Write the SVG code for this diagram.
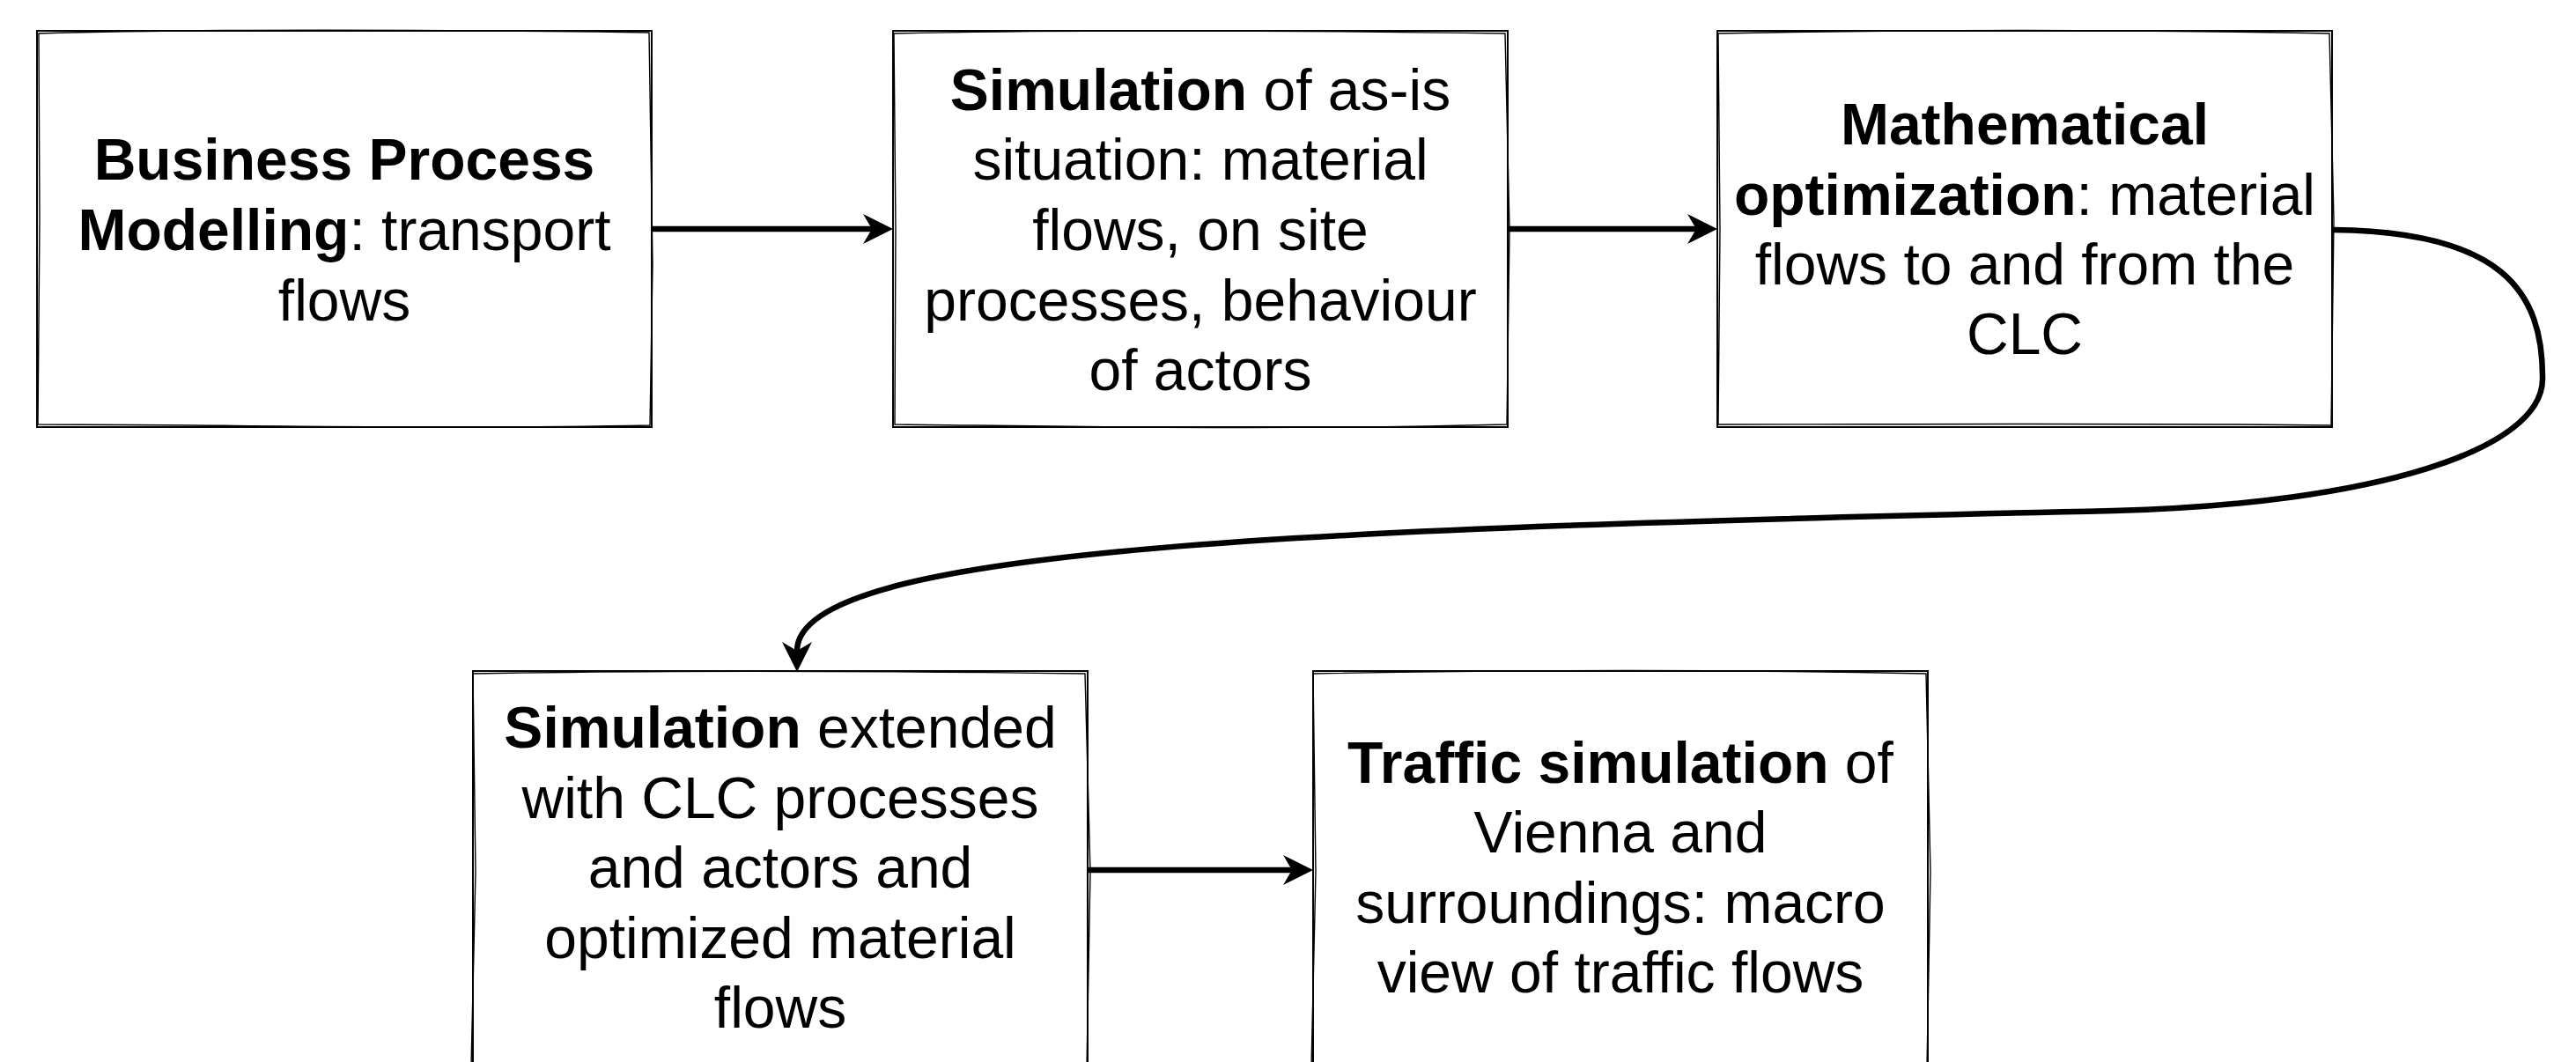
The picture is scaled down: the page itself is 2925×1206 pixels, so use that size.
<svg xmlns="http://www.w3.org/2000/svg" width="2925" height="1206" viewBox="0 0 2925 1206">
  <style>
    .box { fill: #ffffff; stroke: #000000; stroke-width: 2; }
    .sk { fill: none; stroke: #000000; stroke-width: 1.4; }
    .t { font-family: "Liberation Sans", Arial, Helvetica, sans-serif; font-size: 66px; text-anchor: middle; fill: #000000; }
    .b { font-weight: bold; }
    .edge { fill: none; stroke: #000000; stroke-width: 6.5; }
  </style>
  <defs>
    <marker id="arrow" viewBox="0 0 34 34" markerUnits="userSpaceOnUse" markerWidth="34" markerHeight="34" refX="10" refY="17" orient="auto">
      <path d="M0,0 L34,17 L0,34 L10,17 Z" fill="#000000"/>
    </marker>
  </defs>
  <rect width="2925" height="1206" fill="#ffffff"/>

  <g id="node-bpm">
    <rect class="box" x="42" y="35" width="698" height="450"/>
    <path class="sk" d="M44,38 C250,32 520,34 737,37 L741,300 L738,483 C500,488 250,482 43,482 L45,250 Z"/>
    <text class="t" x="391" y="204"><tspan class="b">Business Process</tspan></text>
    <text class="t" x="391" y="284"><tspan class="b">Modelling</tspan>: transport</text>
    <text class="t" x="391" y="364">flows</text>
  </g>

  <g id="node-sim-asis">
    <rect class="box" x="1014" y="35" width="698" height="450"/>
    <path class="sk" d="M1015,38 C1250,33 1500,35 1709,38 L1714,260 L1711,482 C1450,489 1200,484 1016,482 L1017,260 Z"/>
    <text class="t" x="1363" y="125"><tspan class="b">Simulation</tspan> of as-is</text>
    <text class="t" x="1363" y="204">situation: material</text>
    <text class="t" x="1363" y="284">flows, on site</text>
    <text class="t" x="1363" y="364">processes, behaviour</text>
    <text class="t" x="1363" y="443">of actors</text>
  </g>

  <g id="node-math-opt">
    <rect class="box" x="1950" y="35" width="698" height="450"/>
    <path class="sk" d="M1951,38 C2200,33 2450,34 2645,38 L2650,250 L2647,483 C2400,480 2150,482 1951,482 L1953,260 Z"/>
    <text class="t" x="2299" y="164"><tspan class="b">Mathematical</tspan></text>
    <text class="t" x="2299" y="244"><tspan class="b">optimization</tspan>: material</text>
    <text class="t" x="2299" y="323">flows to and from the</text>
    <text class="t" x="2299" y="402">CLC</text>
  </g>

  <g id="node-sim-ext">
    <rect class="box" x="537" y="762" width="698" height="450"/>
    <path class="sk" d="M538,765 C750,761 1000,762 1232,765 L1238,990 L1234,1212 M535,1212 L540,990 L537,765"/>
    <text class="t" x="886" y="849"><tspan class="b">Simulation</tspan> extended</text>
    <text class="t" x="886" y="929">with CLC processes</text>
    <text class="t" x="886" y="1008">and actors and</text>
    <text class="t" x="886" y="1088">optimized material</text>
    <text class="t" x="886" y="1167">flows</text>
  </g>

  <g id="node-traffic">
    <rect class="box" x="1491" y="762" width="698" height="450"/>
    <path class="sk" d="M1492,765 C1750,760 2000,761 2187,765 L2192,990 L2188,1212 M1489,1212 L1494,990 L1491,765"/>
    <text class="t" x="1840" y="889"><tspan class="b">Traffic simulation</tspan> of</text>
    <text class="t" x="1840" y="968">Vienna and</text>
    <text class="t" x="1840" y="1048">surroundings: macro</text>
    <text class="t" x="1840" y="1127">view of traffic flows</text>
  </g>

  <g id="connectors">
    <path class="edge" d="M741,260 L990,260" marker-end="url(#arrow)"/>
    <path class="edge" d="M1713,260 L1926,260" marker-end="url(#arrow)"/>
    <path class="edge" d="M2649,261 C2840,263 2888,330 2887,431 C2886,510 2700,572 2400,580 C1500,600 905,620 905,739" marker-end="url(#arrow)"/>
    <path class="edge" d="M1236,988 L1467,988" marker-end="url(#arrow)"/>
  </g>
</svg>
